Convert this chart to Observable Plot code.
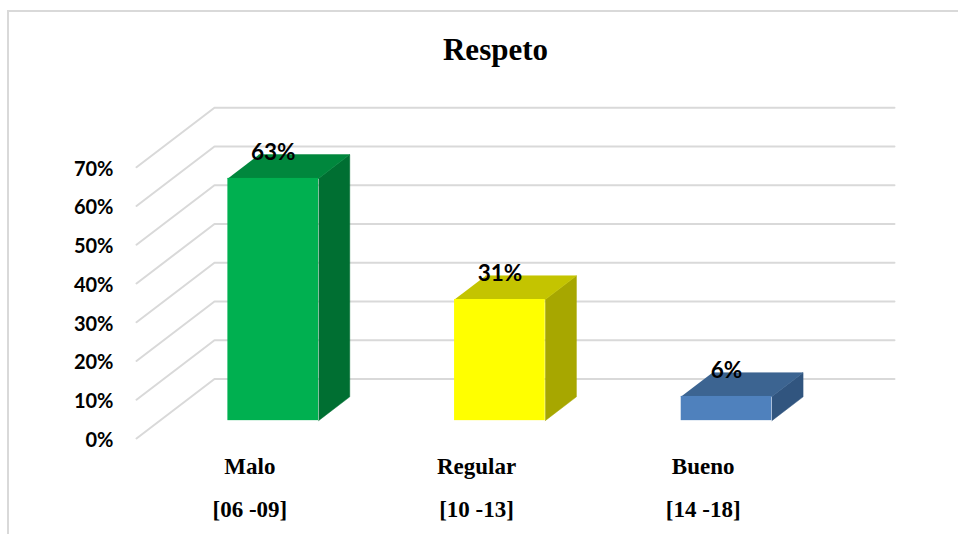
<!DOCTYPE html>
<html>
<head>
<meta charset="utf-8">
<script src="https://cdn.jsdelivr.net/npm/d3@7"></script>
<script src="https://cdn.jsdelivr.net/npm/@observablehq/plot@0.6"></script>
<style>
  html, body { margin: 0; padding: 0; background: #fff; overflow: hidden; width: 958px; height: 534px; }
  #frame { position: absolute; left: 7px; top: 10px; width: 1000px; height: 600px; border: 2px solid #d9d9d9; box-sizing: border-box; }
  #chart { position: absolute; left: 0; top: 0; }
</style>
</head>
<body>
<div id="frame"></div>
<div id="chart"></div>
<script>
// ---- data ----
const title = "Respeto";
const categories = ["Malo", "Regular", "Bueno"];
const ranges = ["[06 -09]", "[10 -13]", "[14 -18]"];
const values = [62.5, 31.25, 6.25];          // percent
const valueLabels = ["63%", "31%", "6%"];
const ticks = [0, 10, 20, 30, 40, 50, 60, 70];
const frontColors = ["#00b050", "#ffff00", "#4f81bd"];
const topColors = ["#00873d", "#c4c400", "#3c6491"];
const sideColors = ["#006f32", "#a7a700", "#31557f"];

// ---- 3D projection constants (in scale units) ----
const DX = 0.344;   // depth offset along x (category units)
const DY = 15.35;   // depth offset along y (percent units)
const F0 = 0.3, F1 = 0.7; // bar front/back depth fractions
const HW = 0.2;     // half bar width (category units)

const bars = categories.map((c, i) => ({c, i, v: values[i], cx: i + 0.5}));

// gridlines: front-left diagonal then along back wall
const grid = ticks.flatMap(t => [
  {t, x: 0, y: t},
  {t, x: DX, y: t + DY},
  {t, x: categories.length + DX, y: t + DY}
]);

const topFace = b => [
  {x: b.cx - HW + F0 * DX, y: b.v + F0 * DY},
  {x: b.cx + HW + F0 * DX, y: b.v + F0 * DY},
  {x: b.cx + HW + F1 * DX, y: b.v + F1 * DY},
  {x: b.cx - HW + F1 * DX, y: b.v + F1 * DY}
];
const sideFace = b => [
  {x: b.cx + HW + F0 * DX, y: F0 * DY},
  {x: b.cx + HW + F1 * DX, y: F1 * DY},
  {x: b.cx + HW + F1 * DX, y: b.v + F1 * DY},
  {x: b.cx + HW + F0 * DX, y: b.v + F0 * DY}
];

const labelFont = "Lato, 'Open Sans', sans-serif";
const serif = "'Liberation Serif', 'Times New Roman', serif";

const plot = Plot.plot({
  width: 958,
  height: 534,
  marginLeft: 136,
  marginRight: 142,
  marginTop: 166.7,
  marginBottom: 96,
  x: {domain: [0, categories.length], axis: null},
  y: {domain: [0, 70], axis: null},
  style: {background: "transparent", color: "#000", overflow: "visible"},
  marks: [
    Plot.line(grid, {x: "x", y: "y", z: "t", stroke: "#d9d9d9", strokeWidth: 2}),
    Plot.axisY({ticks, label: null, tickSize: 0, tickPadding: 23, tickFormat: d => d + "%",
      fontSize: 20, fontWeight: "bold", fontFamily: labelFont, dy: 2}),
    ...bars.map(b => Plot.line(sideFace(b), {x: "x", y: "y", fill: sideColors[b.i], stroke: sideColors[b.i], strokeWidth: 0.5})),
    ...bars.map(b => Plot.line(topFace(b), {x: "x", y: "y", fill: topColors[b.i], stroke: topColors[b.i], strokeWidth: 0.5})),
    Plot.rect(bars, {
      x1: b => b.cx - HW + F0 * DX, x2: b => b.cx + HW + F0 * DX,
      y1: F0 * DY, y2: b => b.v + F0 * DY,
      fill: b => frontColors[b.i]
    }),
    Plot.text(bars, {
      x: b => b.cx + F0 * DX, y: b => b.v + F1 * DY, text: b => valueLabels[b.i],
      fontSize: 22.5, fontWeight: "bold", fontFamily: labelFont, lineAnchor: "bottom", dy: 5, fill: "#000"
    }),
    Plot.text(bars, {
      x: b => b.cx, y: () => -9.1, text: b => b.c,
      fontSize: 23, fontWeight: "bold", fontFamily: serif, lineAnchor: "bottom", fill: "#000"
    }),
    Plot.text(bars, {
      x: b => b.cx, y: () => -20.3, text: b => ranges[b.i],
      fontSize: 23, fontWeight: "bold", fontFamily: serif, lineAnchor: "bottom", fill: "#000"
    }),
    Plot.text([title], {
      frameAnchor: "top-left", dx: 359, dy: -107.4, text: d => d,
      fontSize: 31, fontWeight: "bold", fontFamily: serif, lineAnchor: "bottom", textAnchor: "middle", fill: "#000"
    })
  ]
});
document.getElementById("chart").appendChild(plot);
</script>
</body>
</html>
